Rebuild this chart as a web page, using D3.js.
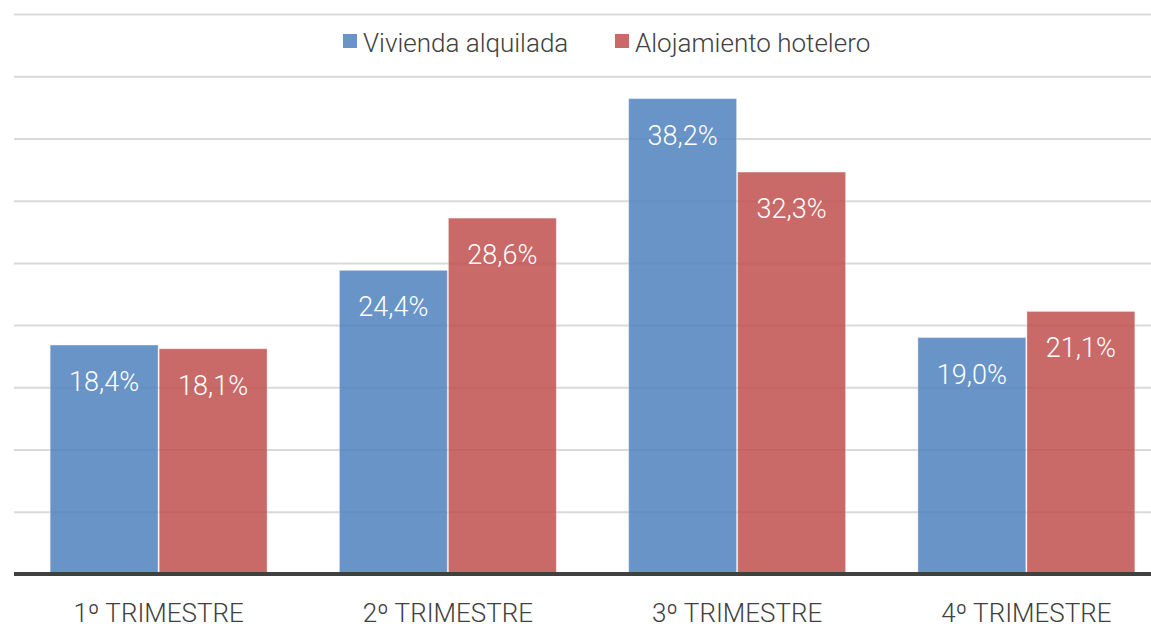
<!DOCTYPE html>
<html>
<head>
<meta charset="utf-8">
<script src="https://cdn.jsdelivr.net/npm/d3@7"></script>
<style>
  body { margin: 0; background: #fff; }
  svg { display: block; font-family: 'Roboto', 'Liberation Sans Narrow', sans-serif; font-weight: 300; }
</style>
</head>
<body>
<div id="chart"></div>
<script>
const categories = ['1º TRIMESTRE', '2º TRIMESTRE', '3º TRIMESTRE', '4º TRIMESTRE'];
const seriesNames = ['Vivienda alquilada', 'Alojamiento hotelero'];
const viviendaValues = [18.4, 24.4, 38.2, 19.0];
const hoteleroValues = [18.1, 28.6, 32.3, 21.1];
const yTicks = [0, 5, 10, 15, 20, 25, 30, 35, 40, 45];
const colors = ['#4f81bd', '#c0504d'];

const WIDTH = 1151;
const HEIGHT = 629;
const MARGIN = { TOP: 14, RIGHT: -20, BOTTOM: 55, LEFT: 14 };

const data = categories.map((c, i) => ({
  cat: c,
  values: [viviendaValues[i], hoteleroValues[i]],
}));

const svg = d3.select('#chart').append('svg').attr('width', WIDTH).attr('height', HEIGHT);

const xScale = d3
  .scaleBand()
  .domain(categories)
  .range([MARGIN.LEFT, WIDTH - MARGIN.RIGHT])
  .paddingInner(0.25)
  .paddingOuter(0.125);

const xSub = d3
  .scaleBand()
  .domain([0, 1])
  .range([0, xScale.bandwidth()])
  .paddingInner(0.01);

const yScale = d3
  .scaleLinear()
  .domain([0, 45])
  .range([HEIGHT - MARGIN.BOTTOM, MARGIN.TOP]);

// grid lines
svg
  .append('g')
  .attr('transform', 'translate(' + MARGIN.LEFT + ',0)')
  .call(
    d3.axisLeft(yScale)
      .tickValues(yTicks.slice(1))
      .tickSizeInner(-(WIDTH - MARGIN.LEFT))
      .tickSizeOuter(0)
      .tickFormat(() => '')
  )
  .call((g) => g.select('.domain').remove())
  .selectAll('.tick line')
  .attr('stroke', '#d9d9d9')
  .attr('stroke-width', 2);

// bars
const groups = svg
  .append('g')
  .selectAll('g')
  .data(data)
  .join('g')
  .attr('transform', (d) => 'translate(' + xScale(d.cat) + ',0)');

groups
  .selectAll('rect')
  .data((d) => d.values.map((v, k) => ({ k, v })))
  .join('rect')
  .attr('x', (d) => xSub(d.k))
  .attr('y', (d) => yScale(d.v))
  .attr('width', xSub.bandwidth())
  .attr('height', (d) => yScale(0) - yScale(d.v))
  .attr('fill', (d) => colors[d.k])
  .attr('fill-opacity', 0.85)
  .attr('stroke', '#ffffff')
  .attr('stroke-opacity', 0.35)
  .attr('stroke-width', 1);

groups
  .selectAll('text')
  .data((d) => d.values.map((v, k) => ({ k, v })))
  .join('text')
  .attr('x', (d) => xSub(d.k) + xSub.bandwidth() / 2)
  .attr('y', (d) => yScale(d.v) + 46)
  .attr('text-anchor', 'middle')
  .attr('fill', '#ffffff')
  .attr('font-size', '27px')
  .text((d) => d.v.toFixed(1).replace('.', ',') + '%');

// x axis
const xAxis = svg
  .append('g')
  .attr('transform', 'translate(0,' + yScale(0) + ')')
  .call(d3.axisBottom(xScale).tickSizeInner(0).tickSizeOuter(0).tickPadding(30));

xAxis.select('.domain').remove();
xAxis
  .append('line')
  .attr('x1', MARGIN.LEFT)
  .attr('x2', WIDTH)
  .attr('stroke', '#404040')
  .attr('stroke-width', 4);
xAxis
  .selectAll('.tick text')
  .attr('fill', '#404040')
  .attr('font-size', '26px')
  .attr('font-family', "'Roboto', sans-serif")
  .attr('font-weight', 300);

// legend
const legend = svg.append('g').attr('transform', 'translate(343,34)');
const legendX = [0, 272];
seriesNames.forEach((name, i) => {
  const item = legend.append('g').attr('transform', 'translate(' + legendX[i] + ',0)');
  item.append('rect').attr('width', 14).attr('height', 14).attr('fill', colors[i]).attr('fill-opacity', 0.85);
  item
    .append('text')
    .attr('x', 20)
    .attr('y', 18)
    .attr('fill', '#404040')
    .attr('font-size', '26px')
    .text(name);
});
</script>
</body>
</html>
